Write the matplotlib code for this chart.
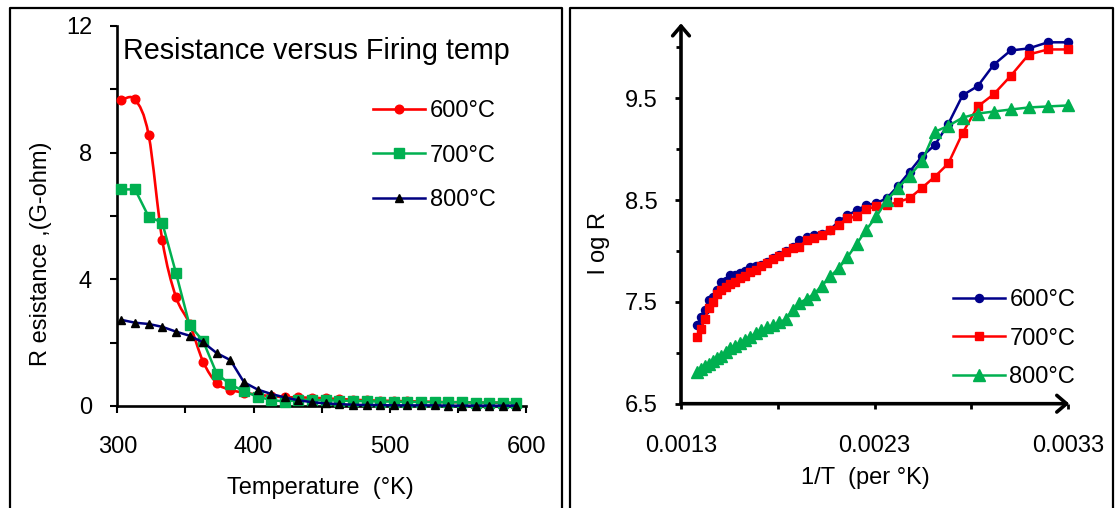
import matplotlib
matplotlib.use("Agg")
import matplotlib.pyplot as plt
from matplotlib.path import Path
from matplotlib.patches import PathPatch
from matplotlib.lines import Line2D
from matplotlib.ticker import FixedLocator, FixedFormatter

plt.rcParams['font.family'] = ['Liberation Sans', 'DejaVu Sans']

# ---------------- data ----------------
# Left panel: resistance (G-ohm) versus temperature (K)
temps_left = [303, 313, 323, 333, 343, 353, 363, 373, 383, 393,
              403, 413, 423, 433, 443, 453, 463, 473, 483, 493,
              503, 513, 523, 533, 543, 553, 563, 573, 583, 593]
res_600 = [9.66, 9.68, 8.56, 5.24, 3.45, 2.60, 1.40, 0.72, 0.51, 0.42,
           0.36, 0.31, 0.28, 0.27, 0.26, 0.24, 0.22, 0.20, 0.18, 0.17,
           0.16, 0.15, 0.14, 0.13, 0.12, 0.12, 0.11, 0.11, 0.10, 0.10]
res_700 = [6.84, 6.84, 5.98, 5.79, 4.21, 2.56, 2.05, 1.02, 0.68, 0.47,
           0.29, 0.19, 0.14, 0.19, 0.19, 0.18, 0.17, 0.16, 0.15, 0.14,
           0.14, 0.13, 0.13, 0.12, 0.12, 0.12, 0.11, 0.11, 0.11, 0.10]
res_800 = [2.72, 2.63, 2.59, 2.50, 2.35, 2.22, 2.01, 1.67, 1.45, 0.75,
           0.52, 0.38, 0.27, 0.18, 0.12, 0.08, 0.06, 0.04, 0.03, 0.03,
           0.02, 0.02, 0.02, 0.02, 0.01, 0.01, 0.01, 0.01, 0.01, 0.01]

# Right panel: log R versus 1/T
temps_right = [303, 313, 323, 333, 343, 353, 363, 373, 383, 393,
               403, 413, 423, 433, 443, 453, 463, 473, 483, 493,
               503, 513, 523, 533, 543, 553, 563, 573, 583, 593,
               603, 613, 623, 633, 643, 653, 663, 673, 683, 693,
               703, 713, 723]
logr_600 = [10.05, 10.05, 9.99, 9.97, 9.83, 9.62, 9.53, 9.25, 9.04, 8.93,
            8.78, 8.64, 8.52, 8.47, 8.45, 8.40, 8.35, 8.29, 8.21, 8.17,
            8.16, 8.14, 8.11, 8.04, 8.00, 7.96, 7.93, 7.89, 7.86, 7.85,
            7.84, 7.80, 7.78, 7.76, 7.76, 7.71, 7.70, 7.62, 7.55, 7.52,
            7.42, 7.35, 7.27]
logr_700 = [9.98, 9.98, 9.93, 9.72, 9.54, 9.42, 9.16, 8.86, 8.73, 8.62,
            8.52, 8.48, 8.45, 8.44, 8.41, 8.34, 8.32, 8.26, 8.21, 8.16,
            8.13, 8.11, 8.04, 8.03, 7.99, 7.95, 7.92, 7.88, 7.85, 7.81,
            7.79, 7.75, 7.73, 7.70, 7.68, 7.65, 7.62, 7.58, 7.50, 7.44,
            7.33, 7.23, 7.16]
logr_800 = [9.43, 9.42, 9.41, 9.39, 9.37, 9.35, 9.31, 9.23, 9.17, 8.88,
            8.74, 8.62, 8.50, 8.34, 8.21, 8.07, 7.94, 7.83, 7.75, 7.66,
            7.58, 7.53, 7.49, 7.42, 7.33, 7.30, 7.27, 7.25, 7.22, 7.19,
            7.16, 7.13, 7.10, 7.07, 7.05, 7.01, 6.97, 6.95, 6.92, 6.89,
            6.87, 6.84, 6.81]
inv_t = [1.0 / t for t in temps_right]

series_labels = ['600°C', '700°C', '800°C']
left_xticks = [300, 400, 500, 600]
left_xticklabels = ['300', '400', '500', '600']
left_yticks = [0, 4, 8, 12]
left_yticklabels = ['0', '4', '8', '12']
right_xticks = [0.0013, 0.0023, 0.0033]
right_xticklabels = ['0.0013', '0.0023', '0.0033']
right_yticks = [6.5, 7.5, 8.5, 9.5]
right_yticklabels = ['6.5', '7.5', '8.5', '9.5']

# ---------------- layout helpers ----------------
W, H = 1115, 508
def fx(px):
    return px / W
def fy(py):
    return 1 - py / H

RED = '#FF0000'
GREEN = '#00B050'
NAVY = '#000080'
BLUE = '#00008B'
FS = 17
LW = 1.8

fig = plt.figure(figsize=(W / 100, H / 100), dpi=100)

# panel frames
for (x0, x1) in [(10, 561.5), (570, 1113)]:
    fig.add_artist(Line2D([fx(x0), fx(x0), fx(x1), fx(x1)],
                          [fy(H + 5), fy(8.3), fy(8.3), fy(H + 5)],
                          transform=fig.transFigure, color='black', lw=1.6))


def smooth_path(xs, ys):
    verts = [(xs[0], ys[0])]
    codes = [Path.MOVETO]
    n = len(xs)
    for i in range(n - 1):
        x0, y0 = xs[max(i - 1, 0)], ys[max(i - 1, 0)]
        x1, y1 = xs[i], ys[i]
        x2, y2 = xs[i + 1], ys[i + 1]
        x3, y3 = xs[min(i + 2, n - 1)], ys[min(i + 2, n - 1)]
        c1 = (x1 + (x2 - x0) / 6.0, y1 + (y2 - y0) / 6.0)
        c2 = (x2 - (x3 - x1) / 6.0, y2 - (y3 - y1) / 6.0)
        verts += [c1, c2, (x2, y2)]
        codes += [Path.CURVE4, Path.CURVE4, Path.CURVE4]
    return Path(verts, codes)

# ---------------- left panel ----------------
ax1 = fig.add_axes([fx(117.3), fy(406), fx(526) - fx(117.3), fy(26) - fy(406)])
ax1.set_xlim(300, 600)
ax1.set_ylim(0, 12)
for s in ['top', 'right']:
    ax1.spines[s].set_visible(False)
for s in ['left', 'bottom']:
    ax1.spines[s].set_linewidth(1.9)

ax1.add_patch(PathPatch(smooth_path(temps_left, res_600), facecolor='none',
                        edgecolor=RED, lw=1.9, clip_on=False, zorder=2))
ax1.plot(temps_left, res_600, linestyle='none', marker='o', ms=6.2,
         color=RED, clip_on=False, zorder=3)
ax1.plot(temps_left, res_700, '-', marker='s', ms=7.6, color=GREEN, lw=LW,
         clip_on=False, zorder=4)
ax1.plot(temps_left, res_800, '-', marker='^', ms=6.4, color=NAVY, mfc='black',
         mec='black', lw=LW, clip_on=False, zorder=5)

ax1.xaxis.set_major_locator(FixedLocator(left_xticks))
ax1.xaxis.set_major_formatter(FixedFormatter(left_xticklabels))
ax1.xaxis.set_minor_locator(FixedLocator([350, 450, 550]))
ax1.yaxis.set_major_locator(FixedLocator(left_yticks))
ax1.yaxis.set_major_formatter(FixedFormatter(left_yticklabels))
ax1.yaxis.set_minor_locator(FixedLocator([2, 6, 10]))
ax1.tick_params(axis='both', which='both', direction='out', length=5, width=1.5,
                labelsize=FS)
ax1.tick_params(axis='x', which='major', pad=16.5)
ax1.tick_params(axis='y', which='major', pad=13.2)

ax1.set_xlabel('Temperature  (°K)', fontsize=FS)
ax1.xaxis.set_label_coords((320 - 117.3) / 408.7, (406 - 488) / 380)
ax1.xaxis.label.set_va('center')
ax1.set_ylabel('R esistance ,(G-ohm)', fontsize=FS)
ax1.yaxis.set_label_coords((41 - 117.3) / 408.7, (406 - 254) / 380)
ax1.yaxis.label.set_va('center')

fig.text(fx(123), fy(59.3), 'Resistance versus Firing temp', fontsize=20.7,
         ha='left', va='baseline')

h1 = [Line2D([], [], color=RED, marker='o', ms=6.2, lw=1.9),
      Line2D([], [], color=GREEN, marker='s', ms=7.6, lw=LW),
      Line2D([], [], color=NAVY, marker='^', ms=6.4, mfc='black', mec='black', lw=LW)]
ax1.legend(h1, series_labels, loc='upper left', bbox_to_anchor=(fx(373), fy(100)),
           bbox_transform=fig.transFigure, frameon=False, borderpad=0,
           borderaxespad=0, handlelength=2.2, handletextpad=0.2,
           labelspacing=0.96, fontsize=FS, numpoints=1)

# ---------------- right panel ----------------
ax2 = fig.add_axes([fx(681), fy(403.7), fx(1069.3) - fx(681), fy(23.3) - fy(403.7)])
ax2.set_xlim(0.0013, 0.0013 + (1069.3 - 681) / 193600.0)
ax2.set_ylim(6.5, 6.5 + (403.7 - 23.3) / 101.8)
for s in ax2.spines.values():
    s.set_visible(False)

ax2.plot(inv_t, logr_600, '-', marker='o', ms=5.8, color=BLUE, lw=LW,
         clip_on=False, zorder=3)
ax2.plot(inv_t, logr_700, '-', marker='s', ms=6.0, color=RED, lw=LW,
         clip_on=False, zorder=4)
ax2.plot(inv_t, logr_800, '-', marker='^', ms=8.5, color=GREEN, lw=LW,
         clip_on=False, zorder=5)

arrow_kw = dict(arrowstyle='->,head_length=0.35,head_width=0.3', lw=2.6,
                color='black', shrinkA=0, shrinkB=0, mutation_scale=20)
ax2.annotate('', xy=(1, 0), xytext=(0, 0), xycoords='axes fraction',
             textcoords='axes fraction', arrowprops=arrow_kw, annotation_clip=False)
ax2.annotate('', xy=(0, 1), xytext=(0, 0), xycoords='axes fraction',
             textcoords='axes fraction', arrowprops=arrow_kw, annotation_clip=False)

ax2.xaxis.set_major_locator(FixedLocator(right_xticks))
ax2.xaxis.set_major_formatter(FixedFormatter(right_xticklabels))
ax2.xaxis.set_minor_locator(FixedLocator([0.0018, 0.0028]))
ax2.yaxis.set_major_locator(FixedLocator(right_yticks))
ax2.yaxis.set_major_formatter(FixedFormatter(right_yticklabels))
ax2.yaxis.set_minor_locator(FixedLocator([7.0, 8.0, 9.0, 10.0]))
ax2.tick_params(axis='both', which='both', direction='out', width=2, labelsize=FS)
ax2.tick_params(axis='x', which='both', length=3.5)
ax2.tick_params(axis='x', which='major', pad=19)
ax2.tick_params(axis='y', which='major', length=4.5, pad=12)
ax2.tick_params(axis='y', which='minor', length=3.5)

ax2.set_xlabel('1/T  (per °K)', fontsize=FS)
ax2.xaxis.set_label_coords((865 - 681) / 388.3, (403.7 - 478.3) / 380.4)
ax2.xaxis.label.set_va('center')
ax2.set_ylabel('l og R', fontsize=FS)
ax2.yaxis.set_label_coords((599 - 681) / 388.3, (403.7 - 243) / 380.4)
ax2.yaxis.label.set_va('center')

h2 = [Line2D([], [], color=BLUE, marker='o', ms=5.8, lw=LW),
      Line2D([], [], color=RED, marker='s', ms=6.0, lw=LW),
      Line2D([], [], color=GREEN, marker='^', ms=8.5, lw=LW)]
ax2.legend(h2, series_labels, loc='upper left', bbox_to_anchor=(fx(952.7), fy(289)),
           bbox_transform=fig.transFigure, frameon=False, borderpad=0,
           borderaxespad=0, handlelength=2.2, handletextpad=0.2,
           labelspacing=0.70, fontsize=FS, numpoints=1)

fig.savefig('out.png', dpi=100)
